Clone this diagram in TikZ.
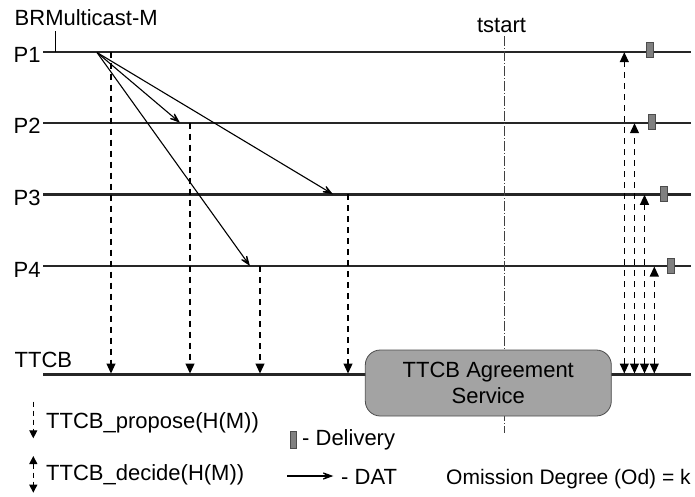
\documentclass[tikz,border=0pt]{standalone}
\usepackage{fontspec}
\setmainfont{Liberation Sans}
\usetikzlibrary{arrows.meta}
\begin{document}
\begin{tikzpicture}[x=1pt,y=-1pt,
  lbl/.style={font=\fontsize{22}{26.5}\selectfont, inner sep=0pt, anchor=base west},
  proc/.style={line width=2.4pt, draw=black!85},
  dat/.style={line width=1.1pt, -{Stealth[length=15pt,width=11pt,inset=9pt]}},
  prop/.style={line width=1.2pt, dash pattern=on 6pt off 5pt, -{Triangle[length=10pt,width=9pt]}},
  dec/.style={line width=1.2pt, dash pattern=on 6pt off 5pt, {Triangle[length=10pt,width=9pt]}-{Triangle[length=10pt,width=9pt]}},
  deliv/.style={draw=black!70, fill=black!50, line width=0.6pt, minimum width=7pt, minimum height=15pt, inner sep=0pt},
  tline/.style={line width=0.8pt, draw=black!75, dash pattern=on 10pt off 2pt on 1pt off 2pt},
  agree/.style={draw=black!70, line width=0.8pt, fill=black!36, rounded corners=15pt, minimum width=246pt, minimum height=66pt, align=center, font=\fontsize{22}{26.5}\selectfont, inner sep=0pt}
]
\useasboundingbox (0,0) rectangle (695,496);

% labels
\node[lbl] (brm) at (14.5,25) {BRMulticast-M};
\node[lbl] (lp1) at (13.5,62.7) {P1};
\node[lbl] (lp2) at (13.5,133.7) {P2};
\node[lbl] (lp3) at (13.5,205.3) {P3};
\node[lbl] (lp4) at (13.5,277) {P4};
\node[lbl] (lttcb) at (14.5,367.7) {TTCB};
\node[lbl, anchor=base] (ts) at (501.5,32.7) {tstart};

% process lines
\coordinate (p1a) at (43,51.7);  \coordinate (p1b) at (691,51.7);
\coordinate (p2a) at (43,122.7); \coordinate (p2b) at (691,122.7);
\coordinate (p3a) at (43,194.3); \coordinate (p3b) at (691,194.3);
\coordinate (p4a) at (43,266);   \coordinate (p4b) at (691,266);
\coordinate (ta) at (43,374.3);  \coordinate (tb) at (691,374.3);
\foreach \a/\b in {p1a/p1b,p2a/p2b,p3a/p3b,p4a/p4b,ta/tb}
  \draw[proc] (\a) -- (\b);

% multicast tick
\coordinate (tick) at (55,31);
\coordinate (tickb) at (55,51.7);
\draw[line width=0.9pt] (tick) -- (tickb);

% tstart line
\coordinate (tsa) at (504,36);
\coordinate (tsb) at (504,433);
\draw[tline] (tsa) -- (tsb);

% DAT arrows
\coordinate (o) at (97,52.5);
\coordinate (d2) at (180,122.7);
\coordinate (d3) at (333,194.3);
\coordinate (d4) at (250,266);
\draw[dat] (o) -- (d2);
\draw[dat] (o) -- (d3);
\draw[dat] (o) -- (d4);

% propose arrows
\coordinate (pr1) at (111,51.7);  \coordinate (pr1e) at (111,373.5);
\coordinate (pr2) at (190,122.7); \coordinate (pr2e) at (190,373.5);
\coordinate (pr4) at (260,266);   \coordinate (pr4e) at (260,373.5);
\coordinate (pr3) at (348,194.3); \coordinate (pr3e) at (348,373.5);
\draw[prop] (pr1) -- (pr1e);
\draw[prop] (pr2) -- (pr2e);
\draw[prop] (pr4) -- (pr4e);
\draw[prop] (pr3) -- (pr3e);

% agreement service
\node[agree] (ag) at (488.3,383) {TTCB Agreement\\Service};

% decide arrows
\coordinate (de1a) at (624.3,373.5); \coordinate (de1b) at (624.3,52.2);
\coordinate (de2a) at (634.5,373.5); \coordinate (de2b) at (634.5,123.2);
\coordinate (de3a) at (644.5,373.5); \coordinate (de3b) at (644.5,194.8);
\coordinate (de4a) at (654.3,373.5); \coordinate (de4b) at (654.3,266.5);
\draw[dec] (de1a) -- (de1b);
\draw[dec] (de2a) -- (de2b);
\draw[dec] (de3a) -- (de3b);
\draw[dec] (de4a) -- (de4b);

% deliveries
\node[deliv] (dl1) at (649.7,50) {};
\node[deliv] (dl2) at (652,122) {};
\node[deliv] (dl3) at (663.7,194) {};
\node[deliv] (dl4) at (670.5,265.5) {};

% legend
\coordinate (lpa) at (33.3,401.7); \coordinate (lpb) at (33.3,438.3);
\draw[line width=1.1pt, dash pattern=on 5pt off 4pt, -{Triangle[length=8pt,width=8pt]}] (lpa) -- (lpb);
\node[lbl] (tprop) at (46,428) {TTCB\_propose(H(M))};
\coordinate (lda) at (33.3,456); \coordinate (ldb) at (33.3,492.7);
\draw[line width=1.1pt, dash pattern=on 5pt off 4pt, {Triangle[length=8pt,width=8pt]}-{Triangle[length=8pt,width=8pt]}] (lda) -- (ldb);
\node[lbl] (tdec) at (46,480) {TTCB\_decide(H(M))};

\node[deliv, minimum width=6pt, minimum height=16.5pt] (ldl) at (293.7,440) {};
\node[lbl] (tdel) at (302,445) {- Delivery};
\coordinate (lxa) at (287.3,476); \coordinate (lxb) at (333.3,476);
\draw[dat] (lxa) -- (lxb);
\node[lbl] (tdat) at (341,484) {- DAT};
\node[lbl, font=\fontsize{21}{25}\selectfont] (tod) at (446,484) {Omission Degree (Od) = k};
\end{tikzpicture}
\end{document}
